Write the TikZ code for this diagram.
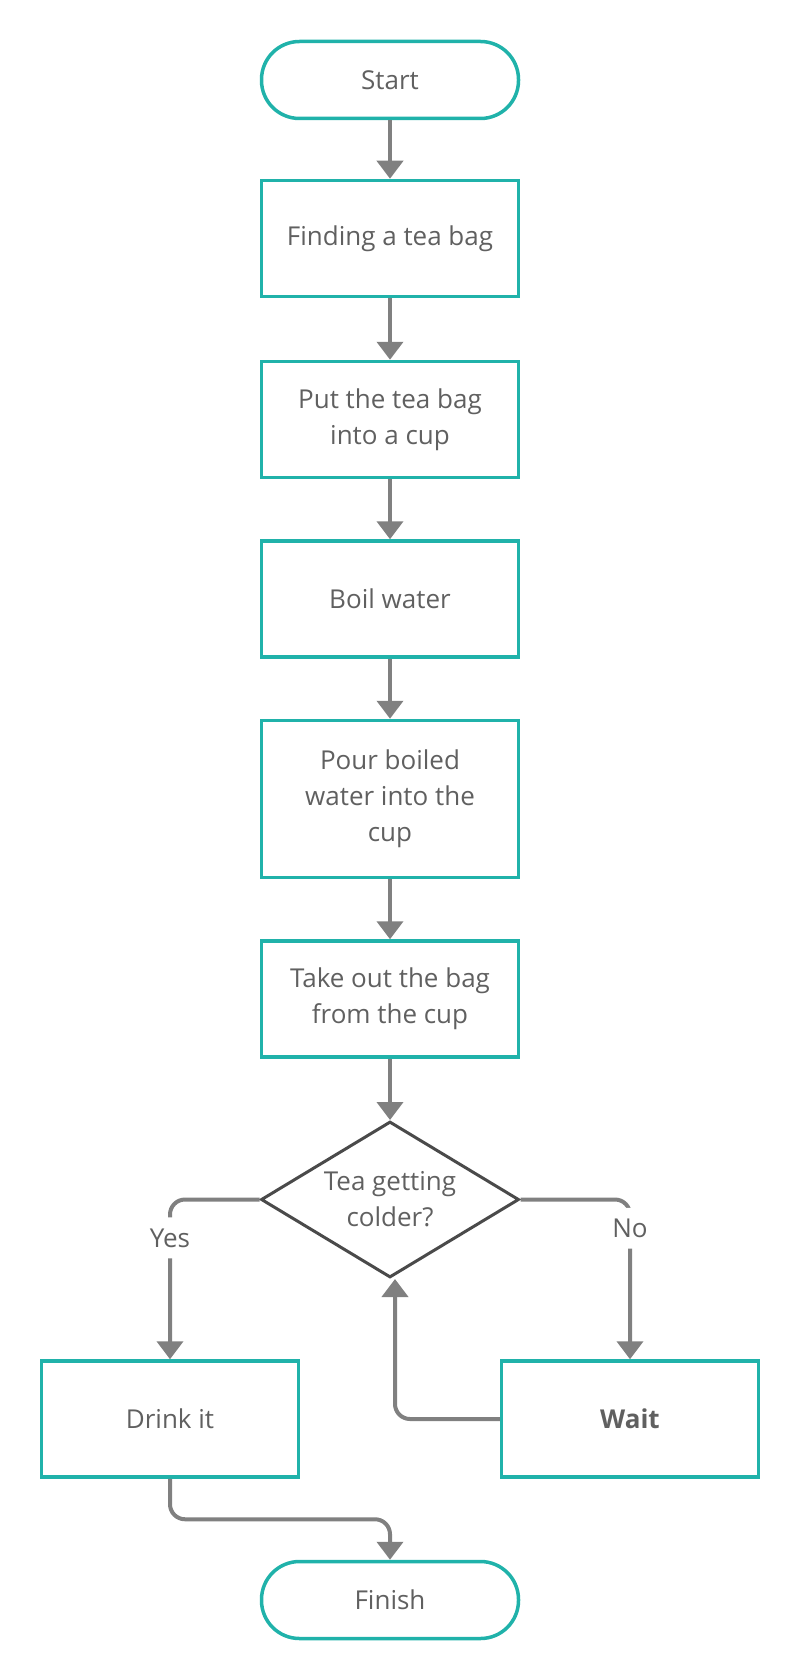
\documentclass[tikz,border=0pt]{standalone}
\usepackage{fontspec}
\setmainfont{Open Sans}
\usetikzlibrary{shapes.geometric, arrows.meta, calc}
\definecolor{boxc}{RGB}{32,178,170}
\definecolor{edgec}{RGB}{128,128,128}
\definecolor{inkc}{RGB}{96,96,96}
\definecolor{askc}{RGB}{74,74,74}
\tikzset{
  stepbox/.style={rectangle, draw=boxc, line width=3.5pt, minimum width=257pt,
    minimum height=116pt, align=center, text=inkc},
  term/.style={stepbox, rounded corners=38pt, minimum height=77pt},
  ask/.style={diamond, draw=askc, line width=3pt, aspect=1.8, minimum width=258pt,
    minimum height=156pt, inner sep=0pt, align=center, text=inkc},
  link/.style={draw=edgec, line width=4pt, rounded corners=15pt,
    -{Triangle[length=18pt,width=26pt]}},
  lab/.style={fill=white, text=inkc, inner sep=11pt}
}

\begin{document}
\begin{tikzpicture}[x=1pt, y=-1pt, every node/.style={font=\fontsize{26}{36}\selectfont}]
  \useasboundingbox (0,0) rectangle (800,1680);
  \node[term] (start) at (390,80) {Start};
  \foreach \n/\y/\h/\t in {1/238.5/116/Finding a tea bag,
      2/419.5/116/{Put the tea bag\\into a cup},
      3/599/116/Boil water,
      4/799/157/{Pour boiled\\water into the\\cup},
      5/999/116/{Take out the bag\\from the cup}}{
    \node[stepbox, minimum height=\h pt] (s\n) at (390,\y) {\t};
  }
  \node[ask] (dec) at (390,1199.5) {Tea getting\\colder?};
  \node[stepbox] (drink) at (170,1419) {Drink it};
  \node[stepbox] (wait) at (630,1419) {\bfseries Wait};
  \node[term] (finish) at (390,1600) {Finish};

  \foreach \a/\b in {start/s1, s1/s2, s2/s3, s3/s4, s4/s5, s5/dec}{
    \draw[link] (\a) -- (\b);
  }
  \draw[link] (dec.west) -| node[lab, pos=0.62] {Yes} (drink.north);
  \draw[link] (dec.east) -| node[lab, pos=0.59] {No} (wait.north);
  \draw[link] (wait.west) -| ([xshift=5pt]dec.south);
  \draw[link] (drink.south) |- ($(drink.south)!.5!(finish.north)$) -| (finish.north);
\end{tikzpicture}
\end{document}
